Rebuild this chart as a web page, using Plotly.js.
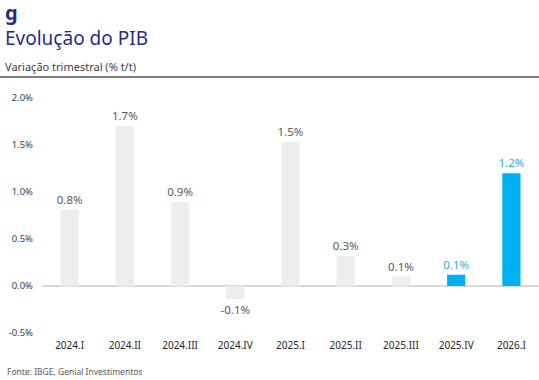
<!DOCTYPE html>
<html>
<head>
<meta charset="utf-8">
<script src="https://cdn.plot.ly/plotly-3.0.1.min.js"></script>
<style>html,body{margin:0;padding:0;background:#fff;}#chart{width:539px;height:380px;}</style>
</head>
<body>
<div id="chart"></div>
<script>
const categories = ["2024.I","2024.II","2024.III","2024.IV","2025.I","2025.II","2025.III","2025.IV","2026.I"];
const values = [0.81, 1.70, 0.89, -0.14, 1.53, 0.32, 0.10, 0.12, 1.20];
const highlighted = [false,false,false,false,false,false,false,true,true];
const tickVals = [-0.5, 0, 0.5, 1.0, 1.5, 2.0];
const tickText = ["-0.5%","0.0%","0.5%","1.0%","1.5%","2.0%"];

const GRAY = "#ededed", BLUE = "#00b0f0";
const FONT = "Noto Sans, sans-serif";
const labels = values.map(v => v.toFixed(1) + "%");

const trace = {
  type: "bar",
  x: categories,
  y: values,
  marker: {color: highlighted.map(h => h ? BLUE : GRAY)},
  text: labels,
  textposition: "outside",
  constraintext: "none",
  cliponaxis: false,
  textfont: {family: FONT, size: 11.5, color: highlighted.map(h => h ? "#29abe2" : "#595959")},
  hoverinfo: "none"
};

const W = 497, H = 248, L = 42, T = 90;
const px = x => (x - L) / W;
const py = y => 1 - (y - T) / H;

const layout = {
  width: 539, height: 380,
  margin: {l: L, r: 0, t: T, b: 380 - T - H},
  paper_bgcolor: "#fff", plot_bgcolor: "#fff",
  showlegend: false,
  bargap: 0.67,
  font: {family: FONT, color: "#404040"},
  xaxis: {
    type: "category",
    showgrid: false, showline: false, ticks: "",
    tickfont: {family: FONT, size: 10, color: "#262626"},
    fixedrange: true
  },
  yaxis: {
    range: [-0.553, 2.085],
    tickvals: tickVals, ticktext: tickText,
    showgrid: false, showline: false, ticks: "",
    zeroline: true, zerolinecolor: "#d9d9d9", zerolinewidth: 2,
    tickfont: {family: FONT, size: 9.5, color: "#404040"},
    ticklabelstandoff: 8,
    fixedrange: true
  },
  shapes: [
    {type: "line", xref: "paper", yref: "paper", x0: px(0), x1: px(539), y0: py(77), y1: py(77),
     line: {color: "#000", width: 1}}
  ],
  annotations: [
    {xref: "paper", yref: "paper", x: px(3), y: py(13), xanchor: "left", yanchor: "middle",
     text: "<b>g</b>", showarrow: false, font: {family: FONT, size: 20, color: "#1f2d8a"}},
    {xref: "paper", yref: "paper", x: px(3), y: py(38), xanchor: "left", yanchor: "middle",
     text: "Evolução do PIB", showarrow: false, font: {family: FONT, size: 19, color: "#1f2d8a"}},
    {xref: "paper", yref: "paper", x: px(3), y: py(66), xanchor: "left", yanchor: "middle",
     text: "Variação trimestral (% t/t)", showarrow: false, font: {family: FONT, size: 11, color: "#404040"}},
    {xref: "paper", yref: "paper", x: px(5), y: py(371), xanchor: "left", yanchor: "middle",
     text: "Fonte: IBGE, Genial Investimentos", showarrow: false, font: {family: FONT, size: 8.5, color: "#595959"}}
  ]
};

Plotly.newPlot("chart", [trace], layout, {displayModeBar: false, staticPlot: true});
</script>
</body>
</html>
